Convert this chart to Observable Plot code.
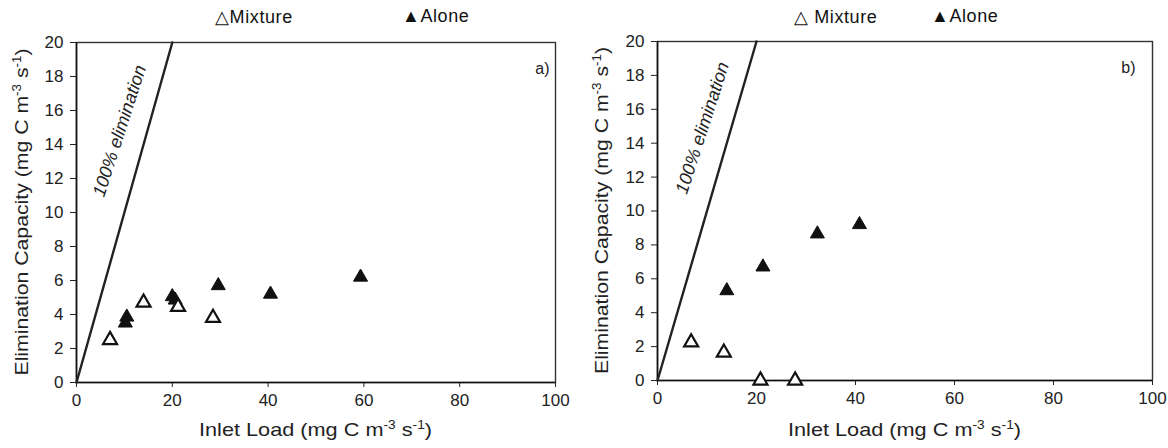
<!DOCTYPE html>
<html><head><meta charset="utf-8">
<script src="https://cdn.jsdelivr.net/npm/d3@7"></script>
<script src="https://cdn.jsdelivr.net/npm/@observablehq/plot@0.6"></script>
<style>
html,body{margin:0;padding:0;background:#fff;}
#wrap{position:relative;width:1168px;height:448px;font-family:"Liberation Sans",Arial,sans-serif;}
.panel{position:absolute;top:0;}
.leg{position:absolute;top:6px;font-size:18px;letter-spacing:0.6px;color:#111;white-space:nowrap;}
</style></head>
<body><div id="wrap"></div>
<script>
// ---- data ----
const panels = ["a)", "b)"];
const seriesNames = ["Mixture", "Alone"];
const xTicks = [0, 20, 40, 60, 80, 100];
const yTicks = [0, 2, 4, 6, 8, 10, 12, 14, 16, 18, 20];
const elimLine = [0, 20];           // 100% elimination: EC = inlet load
const elimLabel = "100% elimination";

const mixA_x = [7, 14, 21.2, 28.5];
const mixA_y = [2.5, 4.7, 4.45, 3.8];
const aloneA_x = [10.2, 10.5, 20, 20.6, 29.6, 40.5, 59.3];
const aloneA_y = [3.5, 3.85, 5.05, 4.85, 5.7, 5.2, 6.2];

const mixB_x = [6.8, 13.4, 20.8, 27.8];
const mixB_y = [2.25, 1.65, 0, 0];
const aloneB_x = [14, 21.3, 32.3, 40.8];
const aloneB_y = [5.3, 6.7, 8.65, 9.2];

const xLabel = "Inlet Load (mg C m", yLabel = "Elimination Capacity (mg C m";

function pts(xs, ys) { return xs.map((x, i) => ({x, y: ys[i]})); }

function addTitle(sel, base, len) {
  sel.attr("font-size", 19).attr("fill", "#222").attr("text-anchor", "middle")
     .attr("textLength", len).attr("lengthAdjust", "spacingAndGlyphs");
  sel.append("tspan").text(base);
  sel.append("tspan").attr("dy", -7).attr("font-size", 12).text("-3");
  sel.append("tspan").attr("dy", 7).text(" s");
  sel.append("tspan").attr("dy", -7).attr("font-size", 12).text("-1");
  sel.append("tspan").attr("dy", 7).text(")");
}

function makePanel(cfg) {
  const mix = pts(cfg.mx, cfg.my), alone = pts(cfg.ax, cfg.ay);
  const line = elimLine.map(v => ({x: v, y: v}));
  const plot = Plot.plot({
    width: cfg.width, height: 448,
    marginLeft: cfg.ml, marginRight: cfg.mr, marginTop: cfg.mt, marginBottom: cfg.mb,
    style: {fontFamily: "Liberation Sans, Arial, sans-serif", fontSize: "17px", color: "#222", overflow: "visible"},
    x: {domain: [0, 100], ticks: xTicks, tickSize: 5, tickPadding: 6, label: null},
    y: {domain: [0, 20], ticks: yTicks, tickSize: 6, tickPadding: 7, label: null},
    marks: [
      Plot.frame({stroke: "#333", strokeWidth: 1.4}),
      Plot.ruleY([0], {stroke: "#111", strokeWidth: 1.6}),
      Plot.ruleX([0], {stroke: "#111", strokeWidth: 1.6}),
      Plot.line(line, {x: "x", y: "y", stroke: "#222", strokeWidth: 2.4}),
      Plot.text([elimLabel], {x: [cfg.lx], y: [cfg.ly], text: d => d, rotate: cfg.rot, fontStyle: "italic", fontSize: 18, fill: "#222"}),
      Plot.dot(alone, {x: "x", y: "y", symbol: "triangle", r: 5.2, fill: "#111", stroke: "#111", strokeWidth: 1}),
      Plot.dot(mix, {x: "x", y: "y", symbol: "triangle", r: 5.2, fill: "#fff", stroke: "#111", strokeWidth: 2.2}),
      Plot.text([cfg.tag], {frameAnchor: "top-right", dx: cfg.tagdx, dy: 20, text: d => d, fontSize: 16, fill: "#222"})
    ]
  });
  const svg = d3.select(plot);
  const W = cfg.width;
  addTitle(svg.append("text").attr("x", cfg.ml + (W - cfg.ml - cfg.mr) / 2).attr("y", 436), xLabel, 233);
  const yc = cfg.mt + (448 - cfg.mt - cfg.mb) / 2;
  addTitle(svg.append("text").attr("transform", `translate(${cfg.ylx},${yc}) rotate(-90)`), yLabel, 327);
  return plot;
}

const wrap = document.getElementById("wrap");
const cfgs = [
  {left: 0, width: 584, ml: 76, mr: 29, mt: 42, mb: 66, mx: mixA_x, my: mixA_y, ax: aloneA_x, ay: aloneA_y, tag: panels[0], tagdx: -6, lx: 9, ly: 14.8, rot: -72, ylx: 28,
   leg: [[215, "\u25B3" + seriesNames[0]], [402, "\u25B2" + seriesNames[1]]]},
  {left: 584, width: 584, ml: 73, mr: 16, mt: 41, mb: 68, mx: mixB_x, my: mixB_y, ax: aloneB_x, ay: aloneB_y, tag: panels[1], tagdx: -17, lx: 9.1, ly: 14.9, rot: -72, ylx: 24,
   leg: [[210, "\u25B3 " + seriesNames[0]], [347, "\u25B2" + seriesNames[1]]]}
];
for (const c of cfgs) {
  const div = document.createElement("div");
  div.className = "panel"; div.style.left = c.left + "px";
  div.appendChild(makePanel(c));
  wrap.appendChild(div);
  for (const [lx, t] of c.leg) {
    const s = document.createElement("div");
    s.className = "leg"; s.style.left = (c.left + lx) + "px"; s.textContent = t;
    wrap.appendChild(s);
  }
}
</script></body></html>
